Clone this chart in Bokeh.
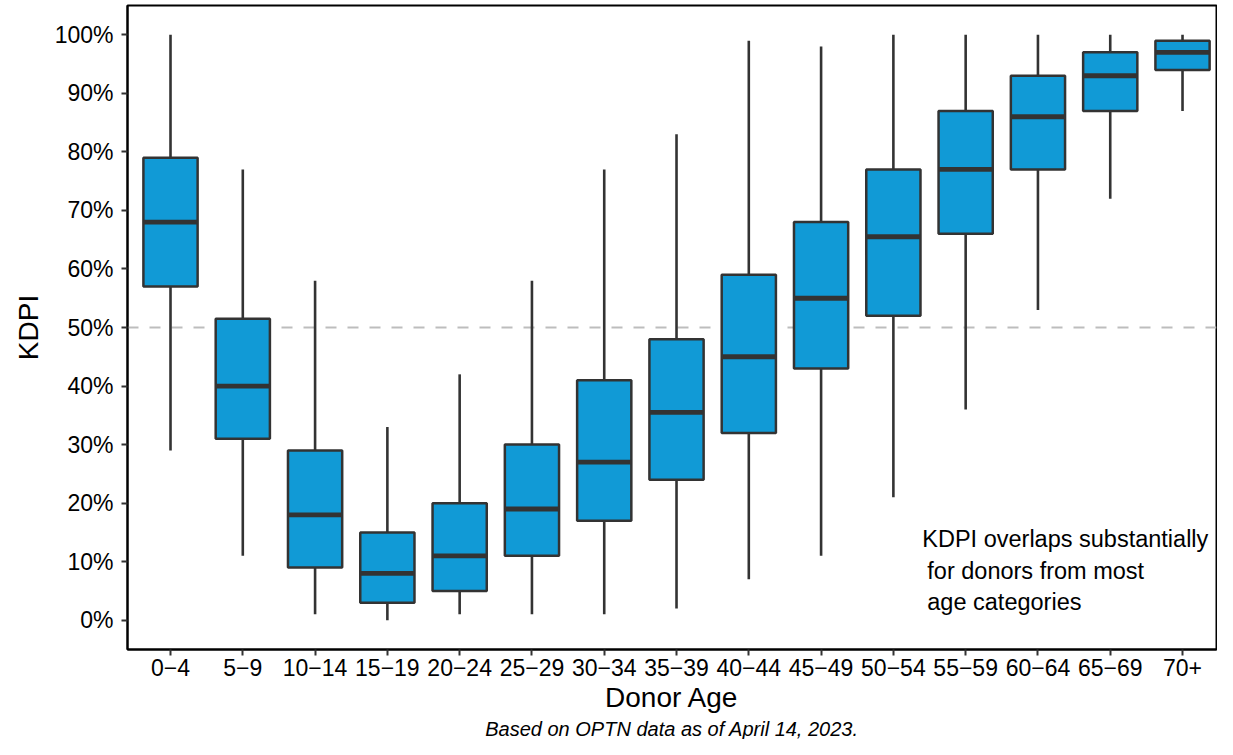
from bokeh.plotting import figure
from bokeh.models import (ColumnDataSource, Range1d, FixedTicker, PrintfTickFormatter,
                          Span, Label, Title)
from bokeh.transform import dodge
from bokeh.embed import file_html
from bokeh.resources import INLINE

# ---- data ----
age = ["0\u22124", "5\u22129", "10\u221214", "15\u221219", "20\u221224", "25\u221229", "30\u221234",
       "35\u221239", "40\u221244", "45\u221249", "50\u221254", "55\u221259", "60\u221264", "65\u221269", "70+"]
lower = [29, 11, 1, 0, 1, 1, 1, 2, 7, 11, 21, 36, 53, 72, 87]
q1 = [57, 31, 9, 3, 5, 11, 17, 24, 32, 43, 52, 66, 77, 87, 94]
median = [68, 40, 18, 8, 11, 19, 27, 35.5, 45, 55, 65.5, 77, 86, 93, 97]
q3 = [79, 51.5, 29, 15, 20, 30, 41, 48, 59, 68, 77, 87, 93, 97, 99]
upper = [100, 77, 58, 33, 42, 58, 77, 83, 99, 98, 100, 100, 100, 100, 100]
y_ticks = list(range(0, 101, 10))
reference_level = 50
note_lines = ["KDPI overlaps substantially", "for donors from most", "age categories"]
caption = "Based on OPTN data as of April 14, 2023."

FONT = "Liberation Sans"
DARK = "#333333"
FILL = "#119AD6"

# category positions on the x scale (1..N)
pos = [i + 1 for i in range(len(age))]
src = ColumnDataSource(dict(x=pos, age=age, lower=lower, q1=q1, median=median, q3=q3, upper=upper))

p = figure(x_range=Range1d(0.405, len(age) + 0.47), y_range=Range1d(-5, 105),
           width=1217, height=739, output_backend="svg", toolbar_location=None,
           min_border_left=127, min_border_right=1, min_border_top=5, min_border_bottom=88)

p.background_fill_color = "white"
p.border_fill_color = "white"
p.xgrid.visible = False
p.ygrid.visible = False
p.outline_line_color = "black"
p.outline_line_width = 2

ref = Span(location=reference_level, dimension="width", line_color="#bdbdbd",
           line_dash="11 11", line_width=2.2, level="underlay")
p.add_layout(ref)

# whiskers
p.segment(x0="x", y0="lower", x1="x", y1="upper", source=src,
          line_color=DARK, line_width=2.6)
# boxes
p.vbar(x="x", top="q3", bottom="q1", width=0.75, source=src,
       fill_color=FILL, line_color=DARK, line_width=2.5)
# medians
p.segment(x0=dodge("x", -0.375), y0="median", x1=dodge("x", 0.375), y1="median",
          source=src, line_color=DARK, line_width=4.8)

# axes
for ax in (p.xaxis[0], p.yaxis[0]):
    ax.axis_line_color = "black"
    ax.axis_line_width = 2
    ax.major_tick_line_color = DARK
    ax.major_tick_line_width = 2
    ax.major_tick_out = 6
    ax.major_tick_in = 0
    ax.minor_tick_line_color = None
    ax.major_label_text_font = FONT
    ax.major_label_text_font_size = "23px"
    ax.major_label_text_color = "black"
    ax.axis_label_text_font = FONT
    ax.axis_label_text_font_size = "28px"
    ax.axis_label_text_font_style = "normal"
    ax.axis_label_text_color = "black"

p.yaxis.ticker = FixedTicker(ticks=y_ticks)
p.yaxis.formatter = PrintfTickFormatter(format="%d%%")
p.yaxis.axis_label = "KDPI"
p.yaxis.major_label_standoff = 8
p.yaxis.axis_label_standoff = 8

p.xaxis.ticker = FixedTicker(ticks=pos)
p.xaxis.major_label_overrides = {x: a for x, a in zip(pos, age)}
p.xaxis.axis_label = "Donor Age"
p.xaxis.major_label_standoff = 3
p.xaxis.axis_label_standoff = 3

# note text
note_y = [13.8, 8.4, 3.1]
note_dx = [0, 5, 5]
for t, yy, dx in zip(note_lines, note_y, note_dx):
    p.add_layout(Label(x=11.40, y=yy, text=t, x_offset=dx, text_font=FONT,
                       text_font_size="23.5px", text_color="black",
                       text_baseline="alphabetic", text_align="left"))

cap = Title(text=caption, align="center", text_font=FONT, text_font_size="20px",
            text_font_style="italic", text_color="black", standoff=0)
p.add_layout(cap, "below")

open("out.html", "w").write(file_html(p, INLINE))
